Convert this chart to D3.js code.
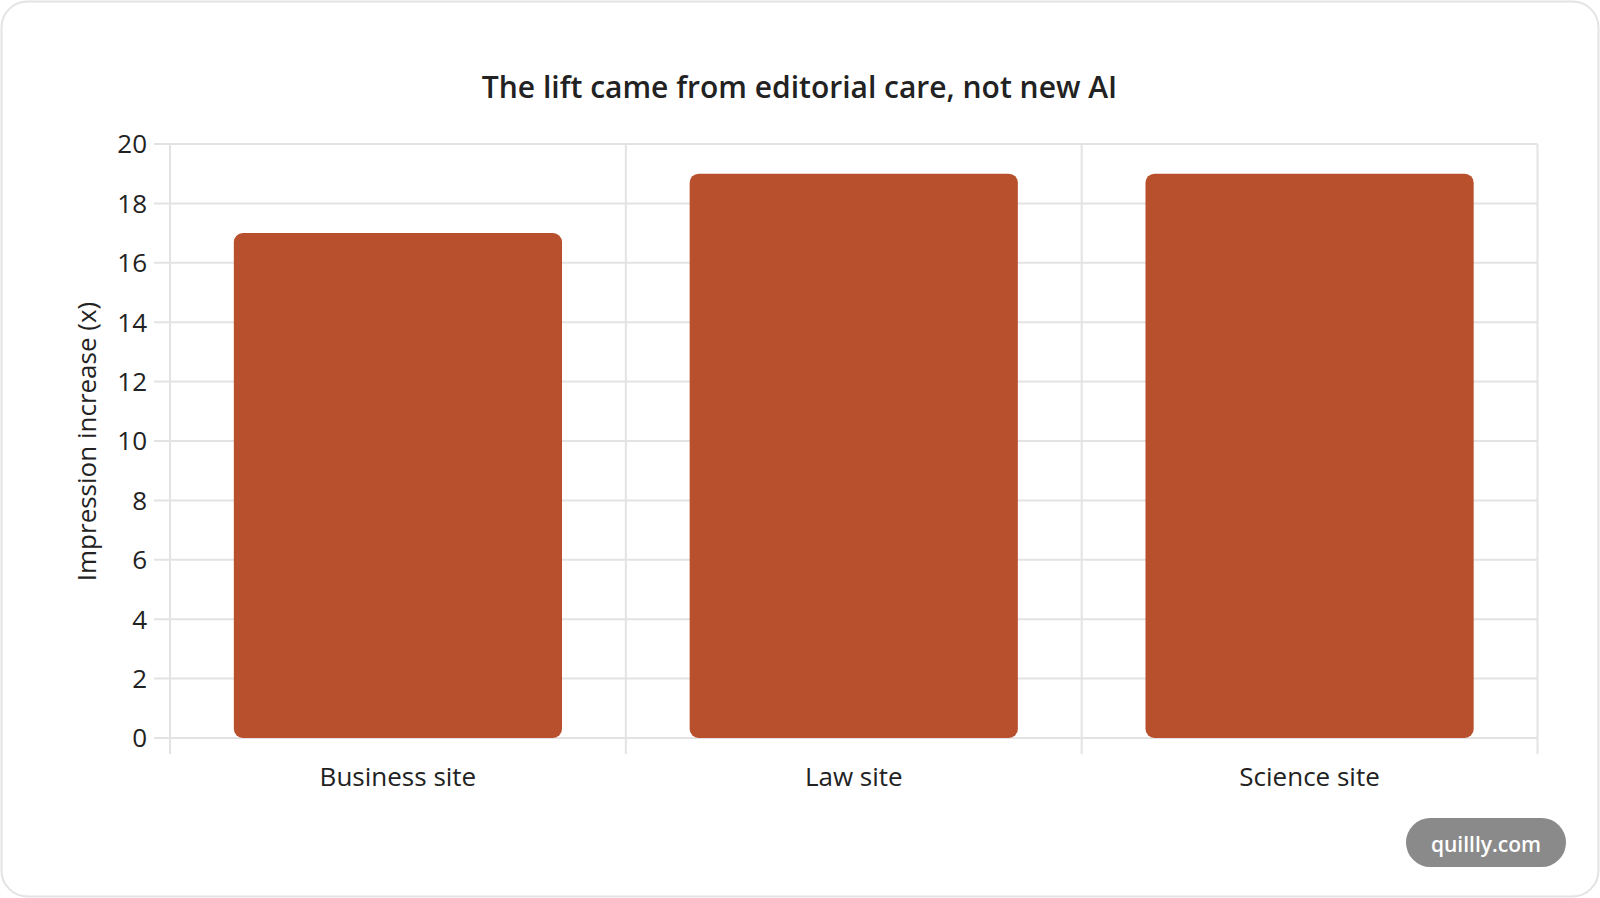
<!DOCTYPE html>
<html><head><meta charset="utf-8">
<script src="https://cdn.jsdelivr.net/npm/d3@7"></script>
<style>html,body{margin:0;padding:0;background:#fff;}svg{display:block;}</style>
</head><body>
<script>
const categories = ["Business site", "Law site", "Science site"];
const values = [17, 19, 19];
const yTicks = [0, 2, 4, 6, 8, 10, 12, 14, 16, 18, 20];
const title = "The lift came from editorial care, not new AI";
const yLabel = "Impression increase (x)";
const watermark = "quillly.com";

const W = 1600, H = 898;
const font = "'Open Sans', 'Noto Sans', sans-serif";
const svg = d3.select("body").append("svg").attr("width", W).attr("height", H);

svg.append("rect").attr("x", 1.5).attr("y", 1.5).attr("width", W - 3).attr("height", H - 3)
  .attr("rx", 26).attr("fill", "#fff").attr("stroke", "#e3e3e3").attr("stroke-width", 2);

const m = {left: 170, right: 1537.5, top: 144, bottom: 738};
const x = d3.scaleBand().domain(categories).range([m.left, m.right]).paddingInner(0).paddingOuter(0);
const y = d3.scaleLinear().domain([0, 20]).range([m.bottom, m.top]);
const barW = x.bandwidth() * 0.72;

// horizontal grid
svg.append("g").selectAll("line").data(yTicks).join("line")
  .attr("x1", m.left - 16).attr("x2", m.right)
  .attr("y1", d => y(d)).attr("y2", d => y(d))
  .attr("stroke", "#e3e3e3").attr("stroke-width", 2);

// vertical grid at band edges
const edges = categories.map(c => x(c)).concat([m.right]);
svg.append("g").selectAll("line").data(edges).join("line")
  .attr("x1", d => d).attr("x2", d => d)
  .attr("y1", m.top).attr("y2", m.bottom + 16)
  .attr("stroke", "#e3e3e3").attr("stroke-width", 2);

// y tick labels
svg.append("g").selectAll("text").data(yTicks).join("text")
  .attr("x", 147).attr("y", d => y(d)).attr("dy", "0.36em")
  .attr("text-anchor", "end").attr("font-family", font).attr("font-size", 26)
  .attr("fill", "#222").text(d => d);

// bars
svg.append("g").selectAll("rect").data(values).join("rect")
  .attr("x", (d, i) => x(categories[i]) + (x.bandwidth() - barW) / 2)
  .attr("width", barW)
  .attr("y", d => y(d))
  .attr("height", d => y(0) - y(d))
  .attr("rx", 9)
  .attr("fill", "#b9502d");

// x labels
svg.append("g").selectAll("text").data(categories).join("text")
  .attr("x", d => x(d) + x.bandwidth() / 2).attr("y", 786)
  .attr("text-anchor", "middle").attr("font-family", font).attr("font-size", 26)
  .attr("fill", "#222").text(d => d);

// y label
svg.append("text")
  .attr("transform", "translate(96,441.5) rotate(-90)")
  .attr("text-anchor", "middle").attr("font-family", font).attr("font-size", 26)
  .attr("fill", "#222").text(yLabel);

// title
svg.append("text").attr("x", 799.5).attr("y", 98)
  .attr("text-anchor", "middle").attr("font-family", font).attr("font-size", 30)
  .attr("font-weight", 600).attr("fill", "#222").text(title);

// watermark
svg.append("rect").attr("x", 1406).attr("y", 818).attr("width", 160).attr("height", 49)
  .attr("rx", 24.5).attr("fill", "#8a8a8a");
svg.append("text").attr("x", 1486).attr("y", 845).attr("dy", "0.35em")
  .attr("text-anchor", "middle").attr("font-family", font).attr("font-size", 21)
  .attr("font-weight", 600).attr("fill", "#fff").text(watermark);
</script>
</body></html>
